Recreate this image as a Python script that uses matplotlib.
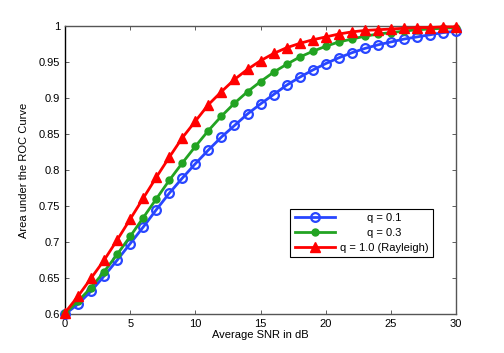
import matplotlib
matplotlib.use("Agg")
import matplotlib.pyplot as plt
import numpy as np

plt.rcParams['font.family'] = ['Liberation Sans', 'DejaVu Sans']

snr_db = list(range(0, 31))
auc_q01 = [0.600, 0.614, 0.632, 0.653, 0.675, 0.698, 0.721, 0.745, 0.768, 0.789,
           0.809, 0.828, 0.846, 0.862, 0.878, 0.892, 0.905, 0.918, 0.929, 0.939,
           0.948, 0.956, 0.963, 0.969, 0.974, 0.978, 0.982, 0.985, 0.988, 0.991, 0.993]
auc_q03 = [0.601, 0.618, 0.637, 0.659, 0.683, 0.708, 0.734, 0.760, 0.786, 0.810,
           0.833, 0.855, 0.875, 0.893, 0.909, 0.923, 0.936, 0.947, 0.957, 0.965,
           0.972, 0.978, 0.982, 0.986, 0.989, 0.991, 0.993, 0.995, 0.996, 0.997, 0.998]
auc_q10 = [0.602, 0.625, 0.650, 0.675, 0.703, 0.732, 0.761, 0.790, 0.818, 0.845,
           0.868, 0.891, 0.909, 0.926, 0.940, 0.952, 0.962, 0.970, 0.976, 0.981,
           0.985, 0.989, 0.992, 0.994, 0.995, 0.996, 0.997, 0.998, 0.998, 0.999, 0.999]
labels = ['q = 0.1', 'q = 0.3', 'q = 1.0 (Rayleigh)']
xticks = [0, 5, 10, 15, 20, 25, 30]
yticks = [0.6, 0.65, 0.7, 0.75, 0.8, 0.85, 0.9, 0.95, 1.0]

fig = plt.figure(figsize=(5.04, 3.53), dpi=100)
ax = fig.add_axes([0.129, 0.110, 0.776, 0.816])

ax.plot(snr_db, auc_q01, '-o', color='#2846ff', lw=2, ms=6.3, mfc='none', mew=1.6,
        label=labels[0], clip_on=False, zorder=3)
ax.plot(snr_db, auc_q03, '-o', color='#22a322', lw=2, ms=5, mfc='#22a322', mew=1,
        label=labels[1], clip_on=False, zorder=4)
ax.plot(snr_db, auc_q10, '-^', color='#ff0000', lw=2, ms=7.5, mfc='#ff0000', mew=1,
        label=labels[2], clip_on=False, zorder=5)

ax.set_xlim(0, 30)
ax.set_ylim(0.6, 1.0)
ax.set_xticks(xticks)
ax.set_xticklabels([f'{t:g}' for t in xticks])
ax.set_yticks(yticks)
ax.set_yticklabels([f'{t:g}' for t in yticks])
ax.tick_params(direction='in', top=True, right=True, length=3, labelsize=8, width=0.6,
               colors='#444444', labelcolor='black')
for s in ax.spines.values():
    s.set_color('#555555')
    s.set_linewidth(1.0)
ax.spines['left'].set_color('black')

ax.set_xlabel('Average SNR in dB', fontsize=8, labelpad=1)
ax.set_ylabel('Area under the ROC Curve', fontsize=8, labelpad=7)

leg = ax.legend(loc='lower right', bbox_to_anchor=(0.942, 0.198), fontsize=8,
                frameon=True, fancybox=False, edgecolor='black', framealpha=1,
                handlelength=3.6, borderpad=0.4, labelspacing=0.42, handletextpad=0.5,
                borderaxespad=0)
leg.get_frame().set_linewidth(0.8)

# center legend texts within the text column (MATLAB style)
renderer = fig.canvas.get_renderer()
texts = leg.get_texts()
widths = [t.get_window_extent(renderer).width for t in texts]
wmax = max(widths)
for t, w in zip(texts, widths):
    t.set_position(((wmax - w) / 2.0, 0))

fig.savefig('out.png', dpi=100)
